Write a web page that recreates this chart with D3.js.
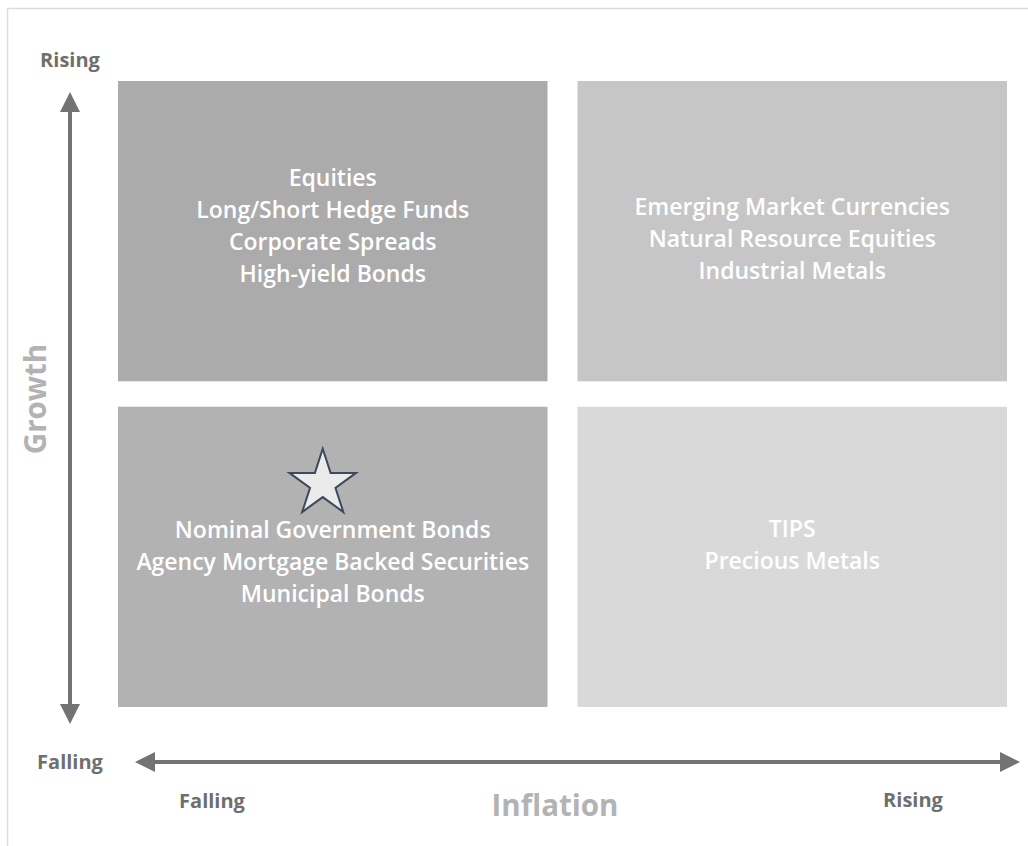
<!DOCTYPE html>
<html>
<head>
<meta charset="utf-8">
<script src="https://cdn.jsdelivr.net/npm/d3@7"></script>
<style>
  html, body { margin: 0; padding: 0; background: #fff; }
  svg { display: block; }
  text { font-family: "Open Sans", "Noto Sans", sans-serif; }
</style>
</head>
<body>
<svg id="chart" width="1028" height="846"></svg>
<script>
// Regime axes
const inflationLevels = ["Falling", "Rising"];
const growthLevels = ["Rising", "Falling"];

// Quadrant assignments: inflation regime, growth regime, asset list
const quadInflation = ["Falling", "Rising", "Falling", "Rising"];
const quadGrowth = ["Rising", "Rising", "Falling", "Falling"];
const quadAssets = [
  ["Equities", "Long/Short Hedge Funds", "Corporate Spreads", "High-yield Bonds"],
  ["Emerging Market Currencies", "Natural Resource Equities", "Industrial Metals"],
  ["Nominal Government Bonds", "Agency Mortgage Backed Securities", "Municipal Bonds"],
  ["TIPS", "Precious Metals"]
];
const quadFill = ["#ababab", "#c6c6c6", "#b2b2b2", "#d9d9d9"];

// Highlighted regime (star marker)
const starRegime = { inflation: "Falling", growth: "Falling" };

const axisTitles = { x: "Inflation", y: "Growth" };

const svg = d3.select("#chart");
const W = 1028, H = 846;

// Frame lines (top and left edges)
svg.append("line").attr("x1", 7.5).attr("x2", W).attr("y1", 8.5).attr("y2", 8.5)
  .attr("stroke", "#dcdcdc").attr("stroke-width", 1.5);
svg.append("line").attr("x1", 7.5).attr("x2", 7.5).attr("y1", 8.5).attr("y2", H)
  .attr("stroke", "#dcdcdc").attr("stroke-width", 1.5);

const x = d3.scaleBand().domain(inflationLevels).range([118, 1007])
  .paddingInner(0.0653).paddingOuter(0);
const y = d3.scaleBand().domain(growthLevels).range([81, 707])
  .paddingInner(0.078).paddingOuter(0);

const quads = quadAssets.map((assets, i) => ({
  inflation: quadInflation[i], growth: quadGrowth[i], assets, fill: quadFill[i]
}));

// Vertical placement of each text block within its panel (px from centre)
const textNudge = [-5, 8, 5, -12];
const lineH = 32;

const g = svg.append("g").selectAll("g").data(quads).join("g");
g.append("rect")
  .attr("x", d => x(d.inflation)).attr("y", d => y(d.growth))
  .attr("width", x.bandwidth()).attr("height", y.bandwidth())
  .attr("fill", d => d.fill);

g.each(function(d, i) {
  const cx = x(d.inflation) + x.bandwidth() / 2;
  const cy = y(d.growth) + y.bandwidth() / 2 + textNudge[i];
  const n = d.assets.length;
  d3.select(this).selectAll("text").data(d.assets).join("text")
    .attr("x", cx)
    .attr("y", (t, j) => cy + (j - (n - 1) / 2) * lineH)
    .attr("dy", "0.35em")
    .attr("text-anchor", "middle")
    .attr("fill", "#ffffff")
    .attr("font-size", 23)
    .attr("font-weight", 600)
    .text(t => t);
});

// Star marker in the highlighted regime
{
  const cx = x(starRegime.inflation) + x.bandwidth() / 2 - 10;
  const cy = y(starRegime.growth) + 77;
  svg.append("path")
    .attr("d", d3.symbol(d3.symbolStar, 1375)())
    .attr("transform", `translate(${cx},${cy})`)
    .attr("fill", "#ebebeb")
    .attr("stroke", "#3d4a5e")
    .attr("stroke-width", 2)
    .attr("stroke-linejoin", "miter");
}

// Arrows
const arrowColor = "#737373";
const defs = svg.append("defs");
defs.append("marker").attr("id", "head")
  .attr("viewBox", "0 0 10 10").attr("refX", 8).attr("refY", 5)
  .attr("markerWidth", 5).attr("markerHeight", 5)
  .attr("markerUnits", "strokeWidth").attr("orient", "auto-start-reverse")
  .append("path").attr("d", "M0,0 L10,5 L0,10 Z").attr("fill", arrowColor);

svg.append("line").attr("x1", 70).attr("x2", 70).attr("y1", 96).attr("y2", 720)
  .attr("stroke", arrowColor).attr("stroke-width", 4)
  .attr("marker-start", "url(#head)").attr("marker-end", "url(#head)");
svg.append("line").attr("x1", 139).attr("x2", 1016).attr("y1", 762).attr("y2", 762)
  .attr("stroke", arrowColor).attr("stroke-width", 4)
  .attr("marker-start", "url(#head)").attr("marker-end", "url(#head)");

// End labels
const endLabel = (tx, ty, s) => svg.append("text")
  .attr("x", tx).attr("y", ty).attr("text-anchor", "middle")
  .attr("fill", "#6f6f6f").attr("font-size", 20).attr("font-weight", 700).text(s);
endLabel(70, 67, growthLevels[0]);
endLabel(70, 769, growthLevels[1]);
endLabel(212, 808, inflationLevels[0]);
endLabel(913, 807, inflationLevels[1]);

// Axis titles
svg.append("text").attr("x", 555).attr("y", 816).attr("text-anchor", "middle")
  .attr("fill", "#b3b3b3").attr("font-size", 29.5).attr("font-weight", 700)
  .text(axisTitles.x);
svg.append("text").attr("transform", "translate(46,399) rotate(-90)")
  .attr("text-anchor", "middle")
  .attr("fill", "#b3b3b3").attr("font-size", 29.5).attr("font-weight", 700)
  .text(axisTitles.y);
</script>
</body>
</html>
